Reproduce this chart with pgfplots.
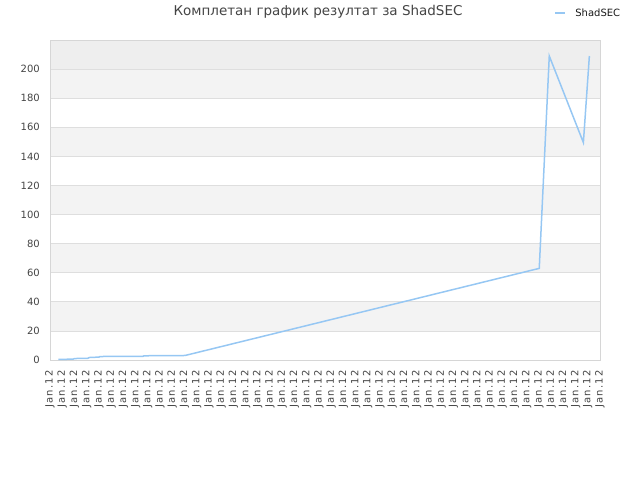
\documentclass[border=0pt]{standalone}
\usepackage{pgfplots}
\pgfplotsset{compat=1.18}
\usepackage{fontspec}
\setmainfont{DejaVu Sans}
\newfontfamily\spaced[LetterSpace=12]{DejaVu Sans}
\definecolor{lineblue}{RGB}{150,199,243}
\definecolor{band}{RGB}{243,243,243}
\definecolor{topband}{RGB}{238,238,238}
\definecolor{gridc}{RGB}{222,222,222}
\definecolor{framec}{RGB}{214,214,214}
\definecolor{txt}{RGB}{68,68,68}
\begin{document}
\begin{tikzpicture}
\path (0pt,0pt) rectangle (640pt,480pt);
\node[txt, font=\fontsize{13.5}{15}\selectfont] at (318pt,468pt) {Комплетан график резултат за ShadSEC};
\begin{axis}[
  set layers,
  at={(50pt,120pt)}, anchor=south west,
  scale only axis, width=550pt, height=320pt,
  xmin=0, xmax=45, ymin=0, ymax=220,
  xtick={0,...,45}, xticklabel={Jan.12},
  ytick={0,20,...,200},
  /pgf/number format/assume math mode=true,
  ymajorgrids, major grid style={gridc, line width=0.8pt},
  axis line style={framec, line width=0.8pt},
  tick style={draw=none},
  tick label style={txt, font=\fontsize{10}{11}\selectfont},
  xticklabel style={rotate=90, anchor=east, inner sep=0pt, font=\spaced\fontsize{10}{11}\selectfont},
  xticklabel shift=10pt,
  yticklabel style={anchor=east, inner sep=0pt, xshift=-10pt},
  xtick pos=bottom, ytick pos=left,
  legend style={at={(0.917,1.084)}, anchor=west, draw=none, fill=none,
    font=\fontsize{10}{11}\selectfont, text=black!90, inner sep=0pt,
    /tikz/every odd column/.append style={column sep=7pt}},
  legend image code/.code={\draw[lineblue, line width=1.8pt] (0pt,0pt) -- (10pt,0pt);},
]
\begin{pgfonlayer}{axis background}
  \fill[band] (axis cs:0,20) rectangle (axis cs:45,40);
  \fill[band] (axis cs:0,60) rectangle (axis cs:45,80);
  \fill[band] (axis cs:0,100) rectangle (axis cs:45,120);
  \fill[band] (axis cs:0,140) rectangle (axis cs:45,160);
  \fill[band] (axis cs:0,180) rectangle (axis cs:45,200);
  \fill[topband] (axis cs:0,200) rectangle (axis cs:45,220);
\end{pgfonlayer}
\addplot[lineblue, line width=1.5pt] coordinates {
  (0.68,0.4) (1.90,0.6) (2.00,1.0) (3.10,1.2) (3.20,1.7) (4.00,2.0)
  (4.10,2.4) (7.60,2.5) (7.70,2.9) (11.05,3.1) (40.03,63)
  (40.85,209) (43.64,149.5) (44.13,209)
};
\addlegendentry{ShadSEC}
\end{axis}
\end{tikzpicture}
\end{document}
